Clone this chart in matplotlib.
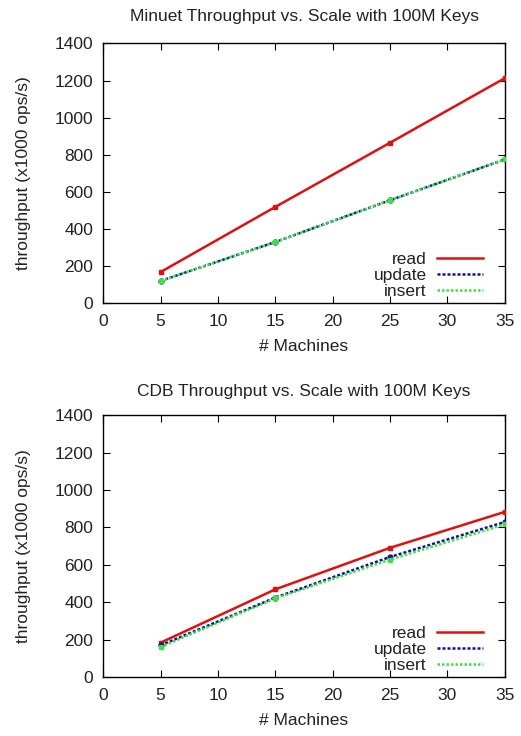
import matplotlib
matplotlib.use("Agg")
import matplotlib.pyplot as plt
from matplotlib.lines import Line2D

plt.rcParams['font.family'] = ['Liberation Sans', 'DejaVu Sans']

machines = [5, 15, 25, 35]
minuet_read = [168, 519, 865, 1213]
minuet_update = [120, 330, 555, 775]
minuet_insert = [120, 330, 555, 775]
cdb_read = [184, 469, 691, 883]
cdb_update = [170, 425, 642, 829]
cdb_insert = [161, 421, 628, 816]
xticks = [0, 5, 10, 15, 20, 25, 30, 35]
yticks = [0, 200, 400, 600, 800, 1000, 1200, 1400]

FS = 12.5
TXT = '#222222'

fig = plt.figure(figsize=(5.21, 7.36), dpi=100)
ax1 = fig.add_axes([0.198, 0.588, 0.771, 0.353])
ax2 = fig.add_axes([0.198, 0.080, 0.771, 0.356])

RED = '#e01010'
BLUE = '#1010a0'
GREEN = '#40e040'
LS_U = (0, (1.2, 0.8))
LS_I = (0, (1.0, 0.8))

def draw(ax, read, update, insert, title, tpad):
    ax.plot(machines, read, color=RED, lw=1.8, marker='s', ms=3.5, zorder=3)
    ax.plot(machines, update, color=BLUE, lw=1.8, ls=LS_U, marker='o', ms=3.5, zorder=4)
    ax.plot(machines, insert, color=GREEN, lw=1.8, ls=LS_I, marker='s', ms=3.5, zorder=5)
    ax.set_xlim(0, 35)
    ax.set_ylim(0, 1400)
    ax.set_xticks(xticks)
    ax.set_yticks(yticks)
    ax.tick_params(direction='in', top=True, right=True, length=5, labelsize=FS,
                   labelcolor=TXT)
    ax.tick_params(axis='x', pad=8)
    ax.tick_params(axis='y', pad=7)
    ax.set_title(title, fontsize=FS, pad=tpad, color=TXT)
    ax.set_xlabel('# Machines', fontsize=FS, labelpad=7, color=TXT)
    ax.set_ylabel('throughput (x1000 ops/s)', fontsize=FS, labelpad=17, color=TXT)
    handles = [Line2D([], [], color=RED, lw=1.8),
               Line2D([], [], color=BLUE, lw=1.8, ls=LS_U),
               Line2D([], [], color=GREEN, lw=1.8, ls=LS_I)]
    leg = ax.legend(handles, ['read', 'update', 'insert'], loc='lower right', frameon=False,
                    markerfirst=False, fontsize=FS, handlelength=2.65, handletextpad=0.6,
                    labelspacing=0.05, borderaxespad=0.0, bbox_to_anchor=(0.963, -0.01))
    for t in leg.get_texts():
        t.set_color(TXT)
    for s in ax.spines.values():
        s.set_linewidth(1.0)

draw(ax1, minuet_read, minuet_update, minuet_insert, 'Minuet Throughput vs. Scale with 100M Keys', 16)
draw(ax2, cdb_read, cdb_update, cdb_insert, 'CDB Throughput vs. Scale with 100M Keys', 14)

fig.savefig('out.png', dpi=100)
